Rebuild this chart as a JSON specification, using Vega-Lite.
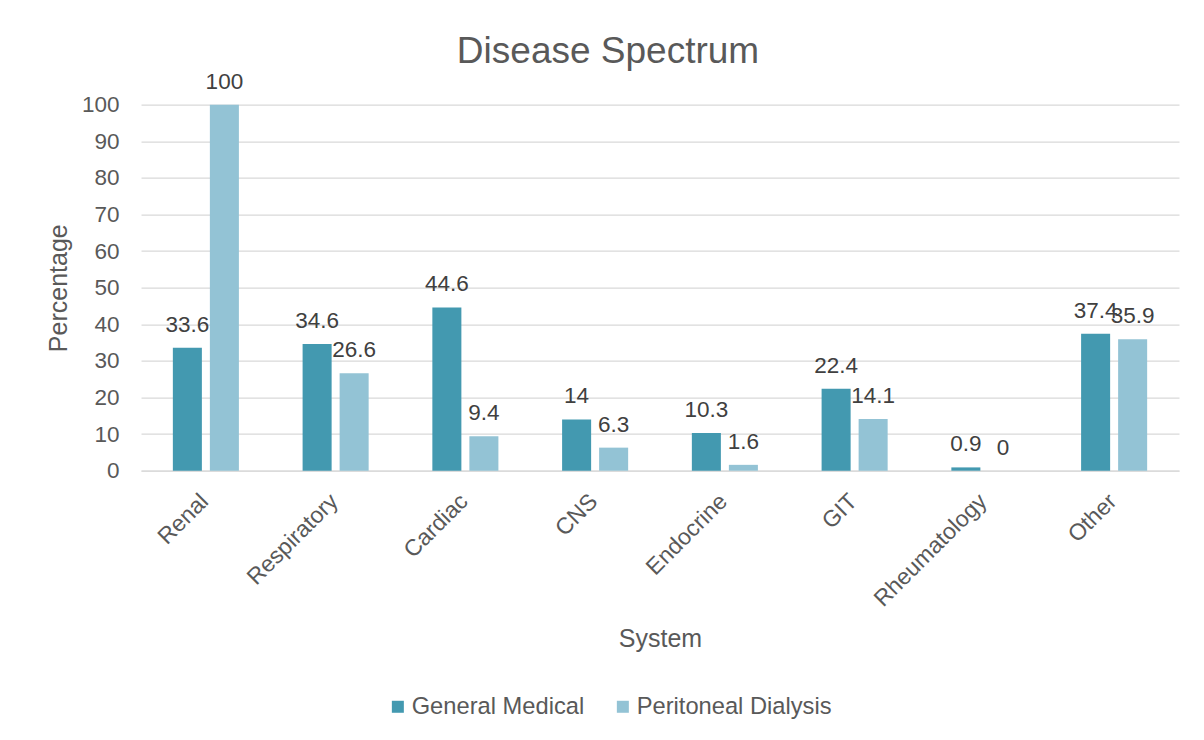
{
  "$schema": "https://vega.github.io/schema/vega-lite/v6.json",
  "autosize": "none",
  "width": 1038,
  "height": 366,
  "padding": {"left": 141, "top": 104.7, "right": 25, "bottom": 269.3},
  "background": "white",
  "config": {
    "font": "Liberation Sans",
    "view": {"stroke": null}
  },
  "title": {
    "text": "Disease Spectrum",
    "fontSize": 37,
    "fontWeight": "normal",
    "color": "#595959",
    "anchor": "middle",
    "frame": "group",
    "dx": -52,
    "offset": 0
  },
  "data": {
    "values": [
      {"system": "Renal", "series": "General Medical", "pct": 33.6},
      {"system": "Renal", "series": "Peritoneal Dialysis", "pct": 100},
      {"system": "Respiratory", "series": "General Medical", "pct": 34.6},
      {"system": "Respiratory", "series": "Peritoneal Dialysis", "pct": 26.6},
      {"system": "Cardiac", "series": "General Medical", "pct": 44.6},
      {"system": "Cardiac", "series": "Peritoneal Dialysis", "pct": 9.4},
      {"system": "CNS", "series": "General Medical", "pct": 14},
      {"system": "CNS", "series": "Peritoneal Dialysis", "pct": 6.3},
      {"system": "Endocrine", "series": "General Medical", "pct": 10.3},
      {"system": "Endocrine", "series": "Peritoneal Dialysis", "pct": 1.6},
      {"system": "GIT", "series": "General Medical", "pct": 22.4},
      {"system": "GIT", "series": "Peritoneal Dialysis", "pct": 14.1},
      {"system": "Rheumatology", "series": "General Medical", "pct": 0.9},
      {"system": "Rheumatology", "series": "Peritoneal Dialysis", "pct": 0},
      {"system": "Other", "series": "General Medical", "pct": 37.4},
      {"system": "Other", "series": "Peritoneal Dialysis", "pct": 35.9}
    ]
  },
  "encoding": {
    "x": {
      "field": "system",
      "type": "nominal",
      "sort": ["Renal", "Respiratory", "Cardiac", "CNS", "Endocrine", "GIT", "Rheumatology", "Other"],
      "scale": {"paddingInner": 0.491, "paddingOuter": 0.2455},
      "axis": {
        "title": "System",
        "titleFontSize": 25,
        "titleFontWeight": "normal",
        "titleColor": "#595959",
        "titlePadding": 16,
        "labelAngle": -45,
        "labelFontSize": 23,
        "labelColor": "#595959",
        "labelPadding": 19,
        "labelOffset": -9,
        "ticks": false,
        "domain": true,
        "domainColor": "#D9D9D9",
        "domainWidth": 1.3,
        "grid": false
      }
    },
    "xOffset": {
      "field": "series",
      "type": "nominal",
      "sort": ["General Medical", "Peritoneal Dialysis"],
      "scale": {"paddingInner": 0.216, "paddingOuter": 0}
    },
    "y": {
      "field": "pct",
      "type": "quantitative",
      "scale": {"domain": [0, 100], "nice": false},
      "axis": {
        "title": "Percentage",
        "titleFontSize": 25,
        "titleFontWeight": "normal",
        "titleColor": "#595959",
        "titlePadding": 10,
        "values": [0, 10, 20, 30, 40, 50, 60, 70, 80, 90, 100],
        "labelFontSize": 22.5,
        "labelColor": "#595959",
        "labelPadding": 22,
        "ticks": false,
        "domain": false,
        "grid": true,
        "gridColor": "#D9D9D9",
        "gridWidth": 1.3
      }
    }
  },
  "layer": [
    {
      "mark": {"type": "bar"},
      "encoding": {
        "color": {
          "field": "series",
          "type": "nominal",
          "scale": {"domain": ["General Medical", "Peritoneal Dialysis"], "range": ["#4399B0", "#93C3D5"]},
          "legend": {
            "title": null,
            "orient": "none",
            "direction": "horizontal",
            "legendX": 245,
            "legendY": 590,
            "padding": 0,
            "symbolType": "square",
            "symbolSize": 144,
            "symbolStrokeWidth": 0,
            "labelFontSize": 23.7,
            "labelColor": "#595959",
            "labelOffset": 2,
            "labelLimit": 0,
            "columnPadding": 26
          }
        }
      }
    },
    {
      "mark": {"type": "text", "fontSize": 22.5, "color": "#404040", "baseline": "alphabetic", "dy": -16},
      "encoding": {
        "text": {"field": "pct", "type": "quantitative"}
      }
    }
  ]
}
